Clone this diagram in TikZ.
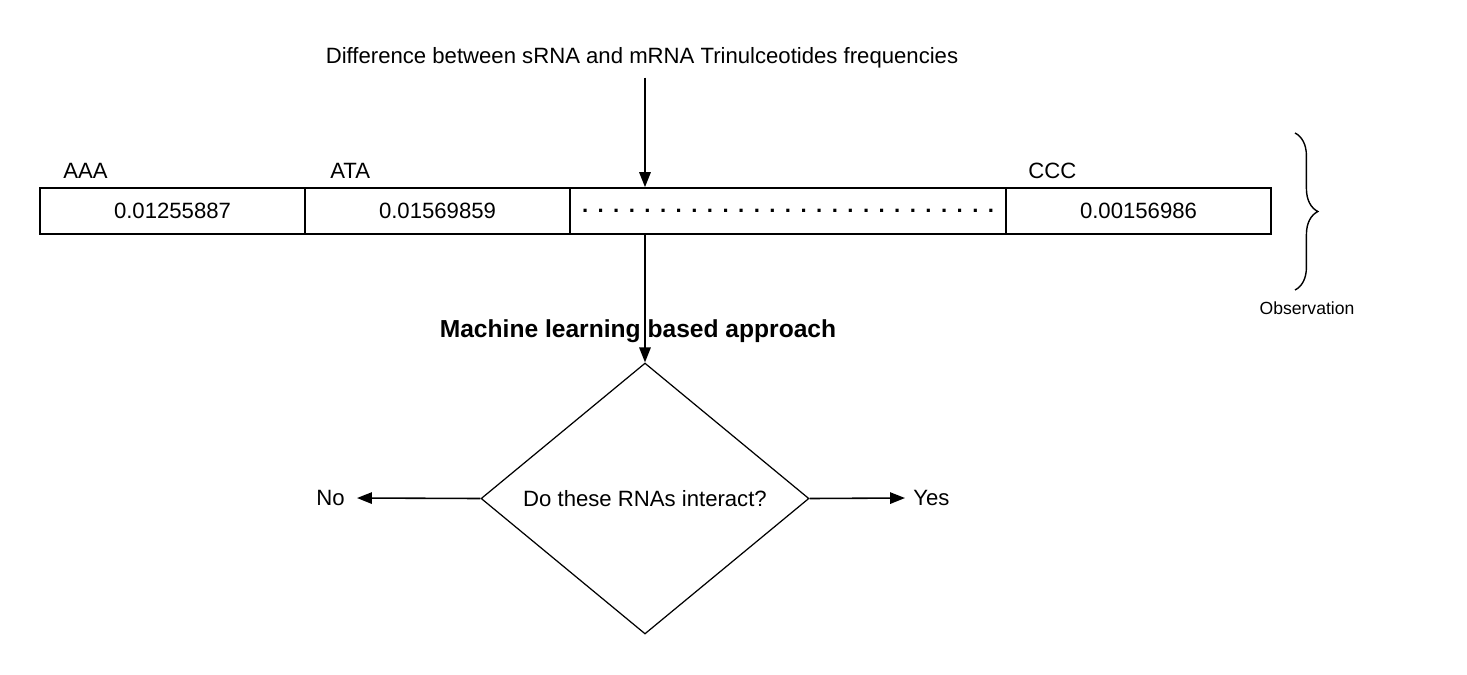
\documentclass[tikz,border=0pt]{standalone}
\usepackage{fontspec}
\setmainfont{Liberation Sans}
\usetikzlibrary{arrows.meta, positioning, shapes.geometric, decorations.pathreplacing}

\begin{document}
\begin{tikzpicture}[x=0.02cm, y=-0.02cm, >={Triangle[length=8.5pt, width=6.5pt]},
    cell/.style={draw, line width=1pt, minimum height=0.92cm, inner sep=0pt,
                 font=\fontsize{12.6}{15}\selectfont},
    lbl/.style={inner sep=0pt, font=\fontsize{12.6}{15}\selectfont},
    flow/.style={->, line width=0.9pt}]
  \useasboundingbox (0,0) rectangle (1467,674);
  % header
  \node[lbl] (diff) at (642,58) {Difference between sRNA and mRNA Trinulceotides frequencies};
  % feature strip
  \node[cell, minimum width=5.3cm] (c1) at (172.5,211) {0.01255887};
  \node[cell, minimum width=5.3cm] (c2) at (437.5,211) {0.01569859};
  \node[cell, minimum width=8.72cm] (dots) at (788,211)
    {\bfseries\hbox to 8.43cm{\xleaders\hbox to 0.312cm{\hss.\hss}\hfill}};
  \node[cell, minimum width=5.3cm] (c4) at (1138.5,211) {0.00156986};
  \node[lbl, anchor=west] (aaa) at (63,171) {AAA};
  \node[lbl, anchor=west] (ata) at (330,171) {ATA};
  \node[lbl, anchor=west] (ccc) at (1028,171) {CCC};
  % observation brace
  \coordinate (btop) at (1295,133);
  \coordinate (bbot) at (1295,290);
  \draw[decorate, decoration={brace, amplitude=13pt}, line width=0.8pt] (btop) -- (bbot);
  \node[inner sep=0pt, font=\fontsize{10}{12}\selectfont] (obs) at (1307,308) {Observation};
  % classifier
  \node[lbl, font=\fontsize{14}{17}\selectfont\bfseries] (ml) at (638,331) {Machine learning based approach};
  \node[draw, diamond, line width=0.7pt, minimum width=6.56cm, minimum height=5.42cm,
        inner sep=0pt, font=\fontsize{12.6}{15}\selectfont] (dec) at (645,498.5) {Do these RNAs interact?};
  \node[lbl, anchor=east, inner xsep=6.8pt] (no) at (357,498) {No};
  \node[lbl, anchor=west, inner xsep=4.5pt] (yes) at (905,498) {Yes};
  % connectors
  \draw[flow] (diff.south -| dec.north) ++(0,9) -- (dec.north |- dots.north);
  \draw[flow] (dots.south -| dec.north) -- (dec.north);
  \draw[flow] (dec.west) -- (no.east);
  \draw[flow] (dec.east) -- (yes.west);
\end{tikzpicture}
\end{document}
